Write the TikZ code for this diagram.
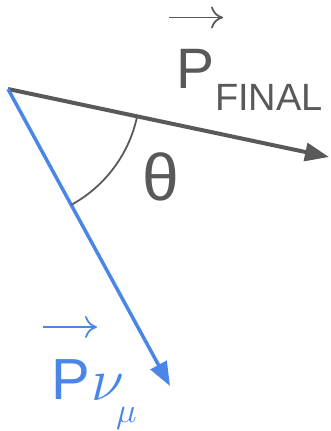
\RequirePackage{fix-cm}
\documentclass[tikz,border=0pt]{standalone}
\usepackage{fontspec}
\setmainfont{Liberation Sans}
\usetikzlibrary{arrows.meta,calc}
\definecolor{vgray}{HTML}{595959}
\definecolor{vblue}{HTML}{4A86E8}
\begin{document}
\begin{tikzpicture}[x=1pt,y=1pt,
  lbl/.style={inner sep=0pt, anchor=base west},
  vecline/.style={line width=#1, -{Triangle[length=24pt,width=18pt]}},
  accent/.style={line width=1.8pt, -{Computer Modern Rightarrow[length=12pt,width=22pt,line width=1.8pt]}}]
\useasboundingbox (0,0) rectangle (330,-431);
\coordinate (O) at (8,-89);
\coordinate (G) at (329,-157);
\coordinate (B) at (170,-386);
\draw[vgray, vecline=4pt] (O) -- (G);
\draw[vblue, vecline=3.5pt] (O) -- (B);
\draw[vgray, line width=1.8pt] ($(O)+(-12:132)$) arc[start angle=-12, end angle=-61.3, radius=132];
% labels
\node[lbl, text=vgray] (thetalbl) at (142,-200) {\fontsize{66}{66}\selectfont θ};
\node[lbl, text=vgray] (pf) at (176,-88) {\fontsize{57}{57}\selectfont P};
\node[lbl, text=vgray] (final) at (215,-110) {\fontsize{38}{38}\selectfont FINAL};
\coordinate (af1) at (169,-17.5);
\coordinate (af2) at (223,-17.5);
\draw[vgray, accent] (af1) -- (af2);
\node[lbl, text=vblue] (pn) at (51,-399) {\fontsize{58}{58}\selectfont P};
\node[lbl, text=vblue] (nu) at (91,-400) {\fontsize{60}{60}\selectfont $\nu$};
\node[lbl, text=vblue] (mu) at (116,-422) {\fontsize{35}{35}\selectfont $\mu$};
\coordinate (an1) at (43,-327);
\coordinate (an2) at (97,-327);
\draw[vblue, accent] (an1) -- (an2);
\end{tikzpicture}
\end{document}
